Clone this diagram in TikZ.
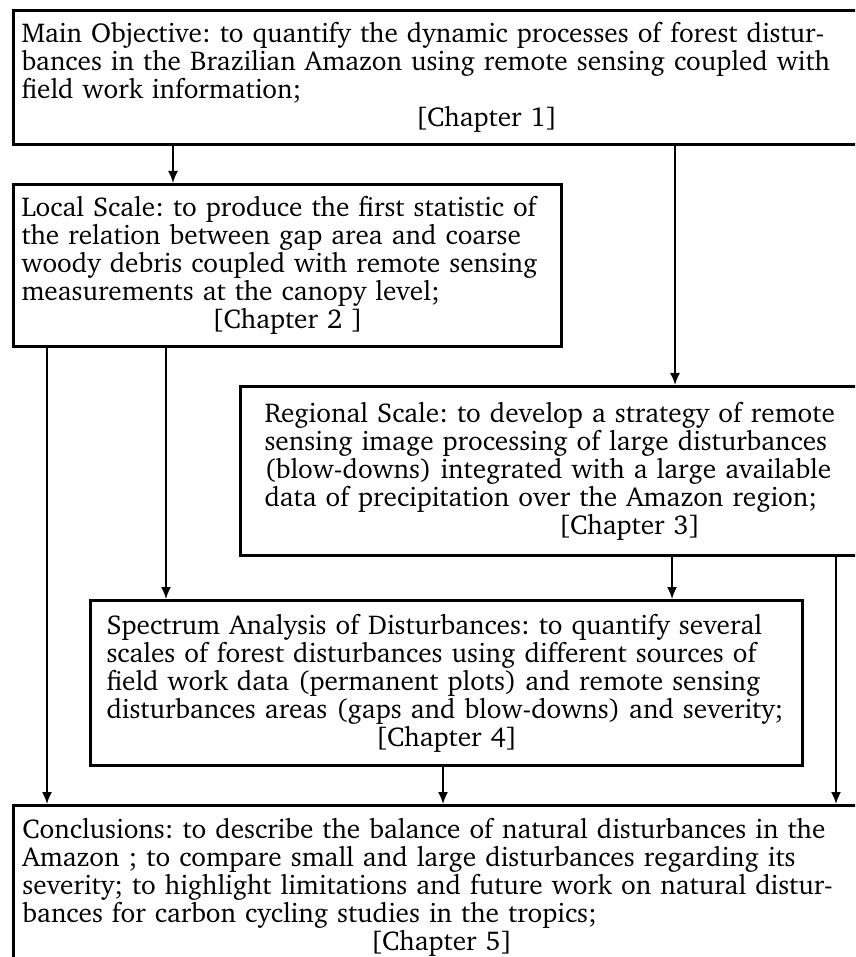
\documentclass[tikz,border=0pt]{standalone}
\usepackage[T1]{fontenc}
\usepackage{charter}
\usetikzlibrary{arrows.meta,calc}
\newdimen\px \px=0.4pt
\newcommand\boxfont{\fontsize{10.9pt}{11.2pt}\selectfont\frenchspacing}
\newcommand\chapline[1]{\makebox[\hsize]{[Chapter #1]}}

\begin{document}
\begin{tikzpicture}[x=0.4pt,y=-0.4pt,
  aimbox/.style={draw,line width=1.2pt,anchor=north west,inner ysep=0pt,align=left,font=\boxfont},
  link/.style={-{Latex[length=4.8pt,width=4pt]},line width=0.7pt}]
  \useasboundingbox (0,0) rectangle (855,957);
  \clip (0,0) rectangle (855,957);
  % boxes, the right ones run past the page edge
  \node[aimbox,minimum width=946\px,minimum height=134\px,inner xsep=8\px,text width=930\px] (main) at (12,9)
    {Main Objective: to quantify the dynamic processes of forest distur-\\
     bances in the Brazilian Amazon using remote sensing coupled with\\
     field work information;\\
     \chapline{1}};
  \node[aimbox,minimum width=548\px,minimum height=162\px,inner xsep=8\px,text width=532\px] (local) at (12,183)
    {Local Scale: to produce the first statistic of\\
     the relation between gap area and coarse\\
     woody debris coupled with remote sensing\\
     measurements at the canopy level;\\
     \chapline{2 }};
  \node[aimbox,minimum width=778\px,minimum height=169\px,inner xsep=24\px,text width=730\px] (reg) at (239,385)
    {Regional Scale: to develop a strategy of remote\\
     sensing image processing of large disturbances\\
     (blow-downs) integrated with a large available\\
     data of precipitation over the Amazon region;\\
     \chapline{3}};
  \node[aimbox,minimum width=712\px,minimum height=165\px,inner xsep=16\px,text width=680\px] (spec) at (89,599)
    {Spectrum Analysis of Disturbances: to quantify several\\
     scales of forest disturbances using different sources of\\
     field work data (permanent plots) and remote sensing\\
     disturbances areas (gaps and blow-downs) and severity;\\
     \chapline{4}};
  \node[aimbox,minimum width=856\px,minimum height=164\px,inner xsep=9\px,text width=838\px] (concl) at (12,804)
    {Conclusions: to describe the balance of natural disturbances in the\\
     Amazon ; to compare small and large disturbances regarding its\\
     severity; to highlight limitations and future work on natural distur-\\
     bances for carbon cycling studies in the tropics;\\
     \chapline{5}};
  % connectors
  \coordinate (a1) at ($(local.north west)+(161,0)$);
  \coordinate (a2) at ($(reg.north west)+(436,0)$);
  \coordinate (b1) at ($(local.south west)+(35,0)$);
  \coordinate (b2) at ($(local.south west)+(154,0)$);
  \coordinate (c1) at ($(spec.north west)+(583,0)$);
  \coordinate (c2) at ($(reg.south west)+(597,0)$);
  \coordinate (d1) at ($(spec.south west)+(354,0)$);
  \draw[link] (a1 |- main.south) -- (a1);
  \draw[link] (a2 |- main.south) -- (a2);
  \draw[link] (b1) -- (b1 |- concl.north);
  \draw[link] (b2) -- (b2 |- spec.north);
  \draw[link] (c1 |- reg.south) -- (c1);
  \draw[link] (c2) -- (c2 |- concl.north);
  \draw[link] (d1) -- (d1 |- concl.north);
\end{tikzpicture}
\end{document}
